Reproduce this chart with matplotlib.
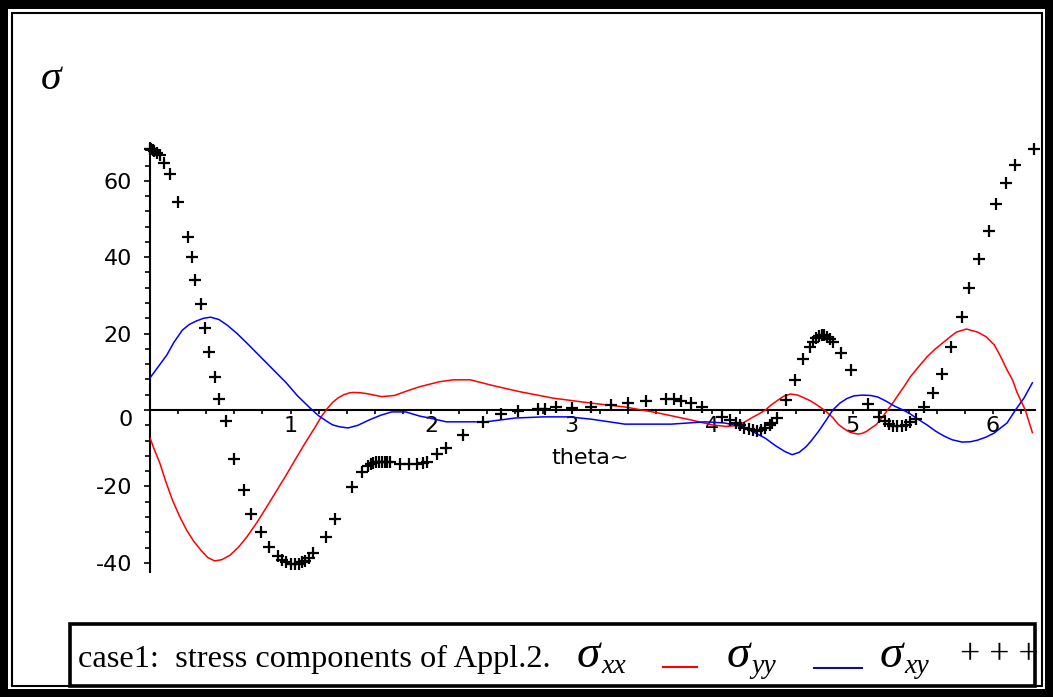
import matplotlib
matplotlib.use("Agg")
import matplotlib.pyplot as plt
from matplotlib.patches import Rectangle
from matplotlib.lines import Line2D
import numpy as np

W, H = 1053, 697

# red curve (theta, value)
red_t = [0, 0.03, 0.07, 0.11, 0.16, 0.21, 0.26, 0.31, 0.36, 0.41, 0.46, 0.51, 0.57, 0.63,
         0.69, 0.76, 0.83, 0.90, 0.97, 1.04, 1.11, 1.17, 1.22, 1.26, 1.30, 1.34, 1.38, 1.42,
         1.45, 1.50, 1.54, 1.65, 1.74, 1.83, 1.92, 2.06, 2.16, 2.28, 2.44, 2.63, 2.87, 3.14,
         3.38, 3.62, 3.85, 4.00, 4.10, 4.17, 4.23, 4.28, 4.33, 4.38, 4.42, 4.47, 4.51, 4.56,
         4.61, 4.66, 4.70, 4.74, 4.81, 4.86, 4.90, 4.94, 4.98, 5.01, 5.04, 5.07, 5.10, 5.13,
         5.17, 5.21, 5.25, 5.29, 5.33, 5.37, 5.41, 5.47, 5.53, 5.59, 5.65, 5.70, 5.74, 5.81,
         5.89, 5.95, 6.01, 6.05, 6.10, 6.14, 6.17, 6.20, 6.23, 6.28]
red_v = [-7.3, -10.3, -13.9, -18.5, -23.6, -27.8, -31.4, -34.3, -36.6, -38.6, -39.5, -39.2, -38.0, -35.9,
         -33.2, -29.5, -25.4, -21.2, -17.0, -12.6, -8.3, -4.8, -1.7, 0.3, 2.0, 3.2, 4.0, 4.5,
         4.6, 4.5, 4.3, 3.5, 3.8, 5.0, 6.1, 7.4, 7.9, 7.9, 6.4, 4.8, 3.1, 1.8,
         0.8, -0.8, -2.6, -3.9, -4.3, -4.1, -3.2, -2.1, -1.1, 0.0, 1.3, 2.6, 3.6, 4.2,
         3.9, 3.1, 2.4, 1.5, -0.3, -2.0, -3.8, -4.9, -5.8, -6.1, -6.3, -6.1, -5.6, -4.8,
         -3.8, -2.0, 0.0, 2.0, 4.2, 6.3, 8.6, 11.3, 13.9, 16.0, 17.8, 19.3, 20.4, 21.2,
         20.4, 19.2, 17.0, 14.3, 10.5, 7.8, 4.7, 2.3, 0.0, -5.9]

# blue curve
blue_t = [0, 0.06, 0.12, 0.17, 0.23, 0.28, 0.33, 0.38, 0.43, 0.49, 0.55, 0.62, 0.69, 0.76,
          0.83, 0.90, 0.97, 1.05, 1.14, 1.20, 1.26, 1.30, 1.35, 1.41, 1.48, 1.56, 1.64, 1.72,
          1.82, 1.92, 1.99, 2.11, 2.39, 2.60, 2.80, 2.98, 3.14, 3.38, 3.71, 3.95, 4.09, 4.23,
          4.38, 4.45, 4.52, 4.57, 4.62, 4.67, 4.71, 4.76, 4.81, 4.86, 4.91, 4.96, 5.01, 5.07,
          5.13, 5.18, 5.24, 5.30, 5.36, 5.41, 5.47, 5.53, 5.59, 5.65, 5.71, 5.78, 5.84, 5.89,
          5.95, 6.01, 6.05, 6.10, 6.16, 6.22, 6.28]
blue_v = [8.4, 11.4, 14.4, 17.7, 20.9, 22.4, 23.3, 24.0, 24.3, 23.7, 22.2, 20.0, 17.5, 14.9,
          12.3, 9.7, 7.1, 3.7, 0.5, -1.5, -3.0, -3.9, -4.4, -4.7, -4.0, -2.6, -1.4, -0.5,
          -0.5, -1.6, -2.1, -3.1, -3.1, -2.1, -1.8, -1.8, -2.4, -3.7, -3.7, -3.1, -3.4, -4.5,
          -7.4, -9.3, -10.9, -11.7, -11.1, -9.6, -7.9, -5.5, -2.8, 0.0, 1.8, 3.0, 3.7, 3.9,
          3.8, 3.4, 2.3, 1.0, 0.0, -1.0, -2.5, -3.9, -5.5, -6.8, -7.8, -8.4, -8.3, -7.9,
          -7.1, -6.0, -4.8, -3.4, 0.0, 3.1, 7.1]

# point series (+)
pts_t = [0, 0.01, 0.02, 0.03, 0.05, 0.07, 0.10, 0.14, 0.20, 0.27, 0.30, 0.32, 0.36, 0.39,
         0.42, 0.46, 0.49, 0.54, 0.60, 0.67, 0.72, 0.79, 0.85, 0.91, 0.94, 0.97, 1.00, 1.03,
         1.06, 1.08, 1.10, 1.13, 1.16, 1.25, 1.32, 1.44, 1.51, 1.55, 1.57, 1.59, 1.61, 1.63,
         1.65, 1.67, 1.69, 1.71, 1.78, 1.84, 1.90, 1.94, 1.97, 2.04, 2.11, 2.23, 2.37, 2.50,
         2.62, 2.76, 2.81, 2.89, 3.00, 3.14, 3.28, 3.40, 3.53, 3.67, 3.73, 3.78, 3.85, 3.93,
         4.07, 4.13, 4.17, 4.20, 4.23, 4.26, 4.29, 4.32, 4.35, 4.38, 4.41, 4.43, 4.46, 4.53,
         4.59, 4.65, 4.70, 4.72, 4.74, 4.76, 4.78, 4.80, 4.82, 4.84, 4.86, 4.92, 4.99, 5.11,
         5.19, 5.23, 5.26, 5.29, 5.32, 5.35, 5.38, 5.41, 5.45, 5.51, 5.57, 5.64, 5.70, 5.78,
         5.83, 5.90, 5.97, 6.02, 6.09, 6.16, 6.29]
pts_v = [68.3, 68.2, 68.0, 67.7, 67.2, 66.8, 64.7, 61.8, 54.5, 45.3, 40.1, 34.0, 27.8, 21.5,
         15.2, 8.6, 2.9, -2.9, -12.8, -20.9, -27.2, -31.9, -35.9, -38.2, -39.2, -39.8, -40.2, -40.3,
         -40.2, -39.9, -39.4, -38.8, -37.5, -33.2, -28.5, -20.2, -16.2, -14.6, -14.1, -13.8, -13.6, -13.5,
         -13.5, -13.6, -13.7, -13.6, -14.2, -14.2, -14.2, -14.0, -13.6, -11.5, -9.9, -6.5, -3.1, -1.0,
         -0.3, 0.3, 0.2, 0.8, 0.5, 0.8, 1.3, 1.8, 2.4, 2.9, 2.9, 2.4, 1.8, 0.8,
         -1.8, -2.6, -3.4, -4.0, -4.6, -5.0, -5.3, -5.4, -5.2, -4.8, -4.0, -3.3, -2.1, 2.6,
         7.9, 13.4, 16.5, 17.8, 18.8, 19.4, 19.7, 19.6, 19.2, 18.5, 17.8, 14.9, 10.5, 1.6,
         -1.8, -3.0, -3.6, -4.1, -4.3, -4.2, -3.8, -3.2, -2.4, 0.8, 4.4, 9.4, 16.5, 24.3,
         32.0, 39.5, 46.9, 53.9, 59.4, 64.1, 68.3]

x_major = [1, 2, 3, 4, 5, 6]
y_major = [-40, -20, 0, 20, 40, 60]


def fx(x):
    return x / W


def fy(y):
    return 1 - y / H


fig = plt.figure(figsize=(W / 100, H / 100), dpi=100, facecolor='white')

# outer frame: thick black border, white gap, thin inner line
fig.patches.append(Rectangle((0, 0), 1, 1, transform=fig.transFigure,
                             facecolor='black', edgecolor='none', zorder=-10))
fig.patches.append(Rectangle((fx(8), fy(689)), fx(1045 - 8), (689 - 9) / H,
                             transform=fig.transFigure, facecolor='white',
                             edgecolor='none', zorder=-9))
fig.patches.append(Rectangle((fx(11.5), fy(685.5)), fx(1041.5 - 11.5), (685.5 - 12.5) / H,
                             transform=fig.transFigure, facecolor='none',
                             edgecolor='black', linewidth=1.5, zorder=-8))

# axes positioned so that theta=0 at px 150, 140.5 px per unit
xmin, xmax = 0, 6.3
ymin, ymax = -42.4, 70
left = 150 / W
width = (xmax - xmin) * 140.5 / W
bottom = (H - (410 - ymin * 3.82)) / H
height = (ymax - ymin) * 3.82 / H
ax = fig.add_axes([left, bottom, width, height])
ax.set_facecolor('none')
ax.set_xlim(xmin, xmax)
ax.set_ylim(ymin, ymax)

ax.spines['top'].set_visible(False)
ax.spines['right'].set_visible(False)
ax.spines['bottom'].set_position(('data', 0))
ax.spines['left'].set_linewidth(1.5)
ax.spines['bottom'].set_linewidth(1.5)

ax.plot(red_t, red_v, color='#ff0000', linewidth=1.1, zorder=3)
ax.plot(blue_t, blue_v, color='#0000ff', linewidth=1.1, zorder=3)
ax.plot(pts_t, pts_v, linestyle='none', marker='+', markersize=8,
        markeredgewidth=1.6, color='black', clip_on=False, zorder=4)

ax.set_xticks(x_major)
ax.set_xticklabels([str(v) for v in x_major])
ax.set_xticks(np.arange(0.2, 6.3, 0.2), minor=True)
ax.set_yticks(y_major)
ax.set_yticklabels(['' if v == 0 else str(v) for v in y_major])
ax.set_yticks(np.arange(-40, 70, 4), minor=True)

ax.tick_params(axis='x', which='both', direction='out', length=3, width=1.2, pad=1,
               labelsize=16, labelcolor='black')
ax.tick_params(axis='y', which='major', direction='out', length=4, width=1.2, pad=9,
               labelsize=16)
ax.tick_params(axis='y', which='minor', direction='out', length=3.5, width=1.2)
for lbl in ax.get_xticklabels() + ax.get_yticklabels():
    lbl.set_family('DejaVu Sans')

# the zero label sits a little below the axis in the original
fig.text(fx(133), fy(420), '0', ha='right', va='center', fontsize=16, family='DejaVu Sans')
fig.text(fx(590), fy(458), 'theta~', ha='center', va='center', fontsize=16,
         family='DejaVu Sans')

# sigma label at top-left
fig.text(fx(51), fy(79), 'σ', ha='center', va='center', fontsize=30,
         family='Liberation Serif', style='italic')

# legend box
fig.patches.append(Rectangle((fx(69.5), fy(686)), fx(1034.5 - 69.5), (686 - 623.5) / H,
                             transform=fig.transFigure, facecolor='none',
                             edgecolor='black', linewidth=2.6, zorder=5))
serif = 'Liberation Serif'
fig.text(fx(78), fy(667), 'case1:  stress components of Appl.2.', ha='left',
         va='baseline', fontsize=23.3, family=serif)
for sx, sub in [(577, 'xx'), (727, 'yy'), (880, 'xy')]:
    fig.text(fx(sx), fy(667), 'σ', ha='left', va='baseline', fontsize=34,
             family=serif, style='italic')
    fig.text(fx(sx + 24), fy(673), sub, ha='left', va='baseline', fontsize=20,
             family=serif, style='italic')
fig.lines.append(Line2D([fx(663), fx(697)], [fy(667), fy(667)], transform=fig.transFigure,
                        color='#ff0000', linewidth=1.5))
fig.lines.append(Line2D([fx(814), fx(862)], [fy(668), fy(668)], transform=fig.transFigure,
                        color='#10108a', linewidth=1.5))
fig.text(fx(960), fy(664), '+ + +', ha='left', va='baseline', fontsize=26, family=serif)

fig.savefig('out.png', dpi=100, facecolor='black')
